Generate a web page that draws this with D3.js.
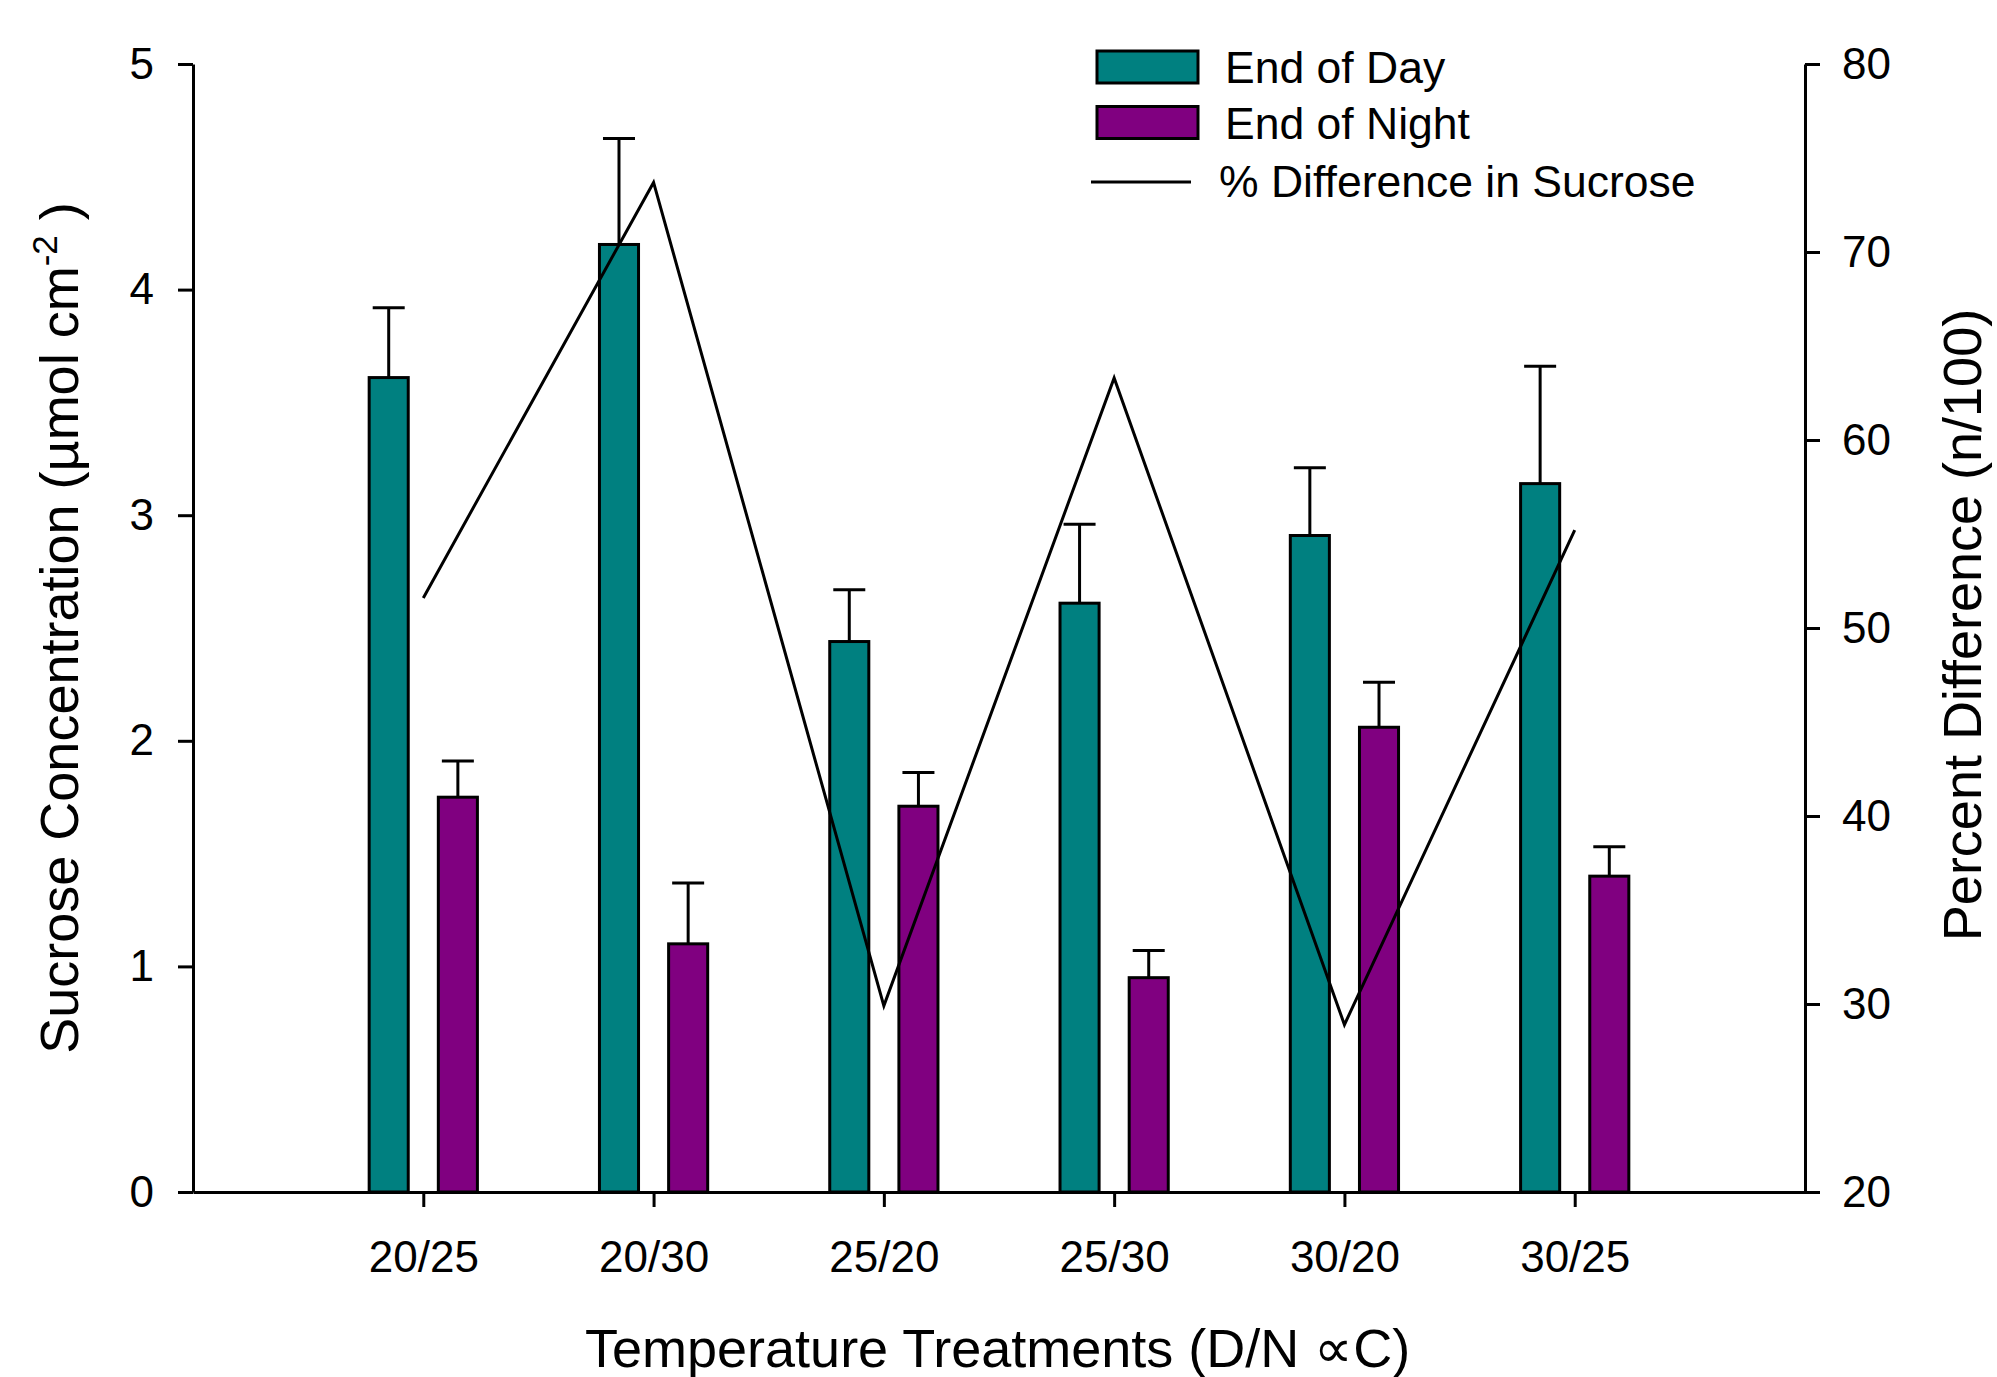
<!DOCTYPE html>
<html>
<head>
<meta charset="utf-8">
<script src="https://cdn.jsdelivr.net/npm/d3@7/dist/d3.min.js"></script>
<style>
  html, body { margin: 0; padding: 0; background: #fff; }
  svg text { font-family: "Liberation Sans", Arial, Helvetica, sans-serif; fill: #000; }
</style>
</head>
<body>
<svg id="chart" width="1997" height="1377"></svg>
<script>
// Sucrose concentration at end of day / end of night per temperature treatment
const categories = ["20/25", "20/30", "25/20", "25/30", "30/20", "30/25"];
const endOfDay = [3.61, 4.20, 2.44, 2.61, 2.91, 3.14];
const endOfDayErr = [0.31, 0.47, 0.23, 0.35, 0.30, 0.52];
const endOfNight = [1.75, 1.10, 1.71, 0.95, 2.06, 1.40];
const endOfNightErr = [0.16, 0.27, 0.15, 0.12, 0.20, 0.13];
const pctDifference = [51.6, 73.7, 29.9, 63.3, 28.9, 55.2];
const leftTicks = [0, 1, 2, 3, 4, 5];
const rightTicks = [20, 30, 40, 50, 60, 70, 80];
const seriesNames = ["End of Day", "End of Night", "% Difference in Sucrose"];
const seriesColors = ["#008080", "#800080"];

const svg = d3.select("#chart");
const plot = { left: 193, right: 1805, top: 64, bottom: 1192 };

// categories sit at positions 1..6 on a 0..7 axis
const x = d3.scaleLinear().domain([0, categories.length + 1]).range([plot.left, plot.right]);
const step = x(1) - x(0);
const inner = d3.scaleBand().domain(["day", "night"])
  .range([-0.235 * step, 0.235 * step]).paddingInner(0.435).paddingOuter(0);
const yL = d3.scaleLinear().domain([0, 5]).range([plot.bottom, plot.top]);
const yR = d3.scaleLinear().domain([20, 80]).range([plot.bottom, plot.top]);

const rows = categories.map((c, i) => ({
  cat: c, pos: i + 1,
  day: endOfDay[i], dayErr: endOfDayErr[i],
  night: endOfNight[i], nightErr: endOfNightErr[i],
  pct: pctDifference[i]
}));

const bars = [];
rows.forEach(r => {
  bars.push({ key: "day", pos: r.pos, v: r.day, e: r.dayErr, color: seriesColors[0] });
  bars.push({ key: "night", pos: r.pos, v: r.night, e: r.nightErr, color: seriesColors[1] });
});

// error bars (upper only)
const eg = svg.append("g").attr("stroke", "#000").attr("stroke-width", 3);
bars.forEach(b => {
  const cx = x(b.pos) + inner(b.key) + inner.bandwidth() / 2;
  eg.append("line").attr("x1", cx).attr("x2", cx).attr("y1", yL(b.v)).attr("y2", yL(b.v + b.e));
  eg.append("line").attr("x1", cx - 16).attr("x2", cx + 16).attr("y1", yL(b.v + b.e)).attr("y2", yL(b.v + b.e));
});

// bars
svg.append("g").selectAll("rect").data(bars).join("rect")
  .attr("x", d => x(d.pos) + inner(d.key))
  .attr("width", inner.bandwidth())
  .attr("y", d => yL(d.v))
  .attr("height", d => yL(0) - yL(d.v))
  .attr("fill", d => d.color)
  .attr("stroke", "#000")
  .attr("stroke-width", 3);

// percent difference line on right axis
svg.append("path")
  .datum(rows)
  .attr("fill", "none")
  .attr("stroke", "#000")
  .attr("stroke-width", 3)
  .attr("d", d3.line().x(d => x(d.pos)).y(d => yR(d.pct)));

// axes
function styleAxis(g, fontSize) {
  g.selectAll("path.domain").attr("stroke", "#000").attr("stroke-width", 3);
  g.selectAll(".tick line").attr("stroke", "#000").attr("stroke-width", 3);
  g.selectAll(".tick text").attr("font-size", fontSize)
    .attr("font-family", '"Liberation Sans", Arial, sans-serif').attr("fill", "#000");
}

const axL = svg.append("g").attr("transform", `translate(${plot.left},0)`)
  .call(d3.axisLeft(yL).tickValues(leftTicks).tickFormat(d3.format("d")).tickSize(15).tickSizeOuter(0).tickPadding(24));
styleAxis(axL, 44);

const axR = svg.append("g").attr("transform", `translate(${plot.right},0)`)
  .call(d3.axisRight(yR).tickValues(rightTicks).tickFormat(d3.format("d")).tickSize(15).tickSizeOuter(0).tickPadding(22));
styleAxis(axR, 44);

const axB = svg.append("g").attr("transform", `translate(0,${plot.bottom})`)
  .call(d3.axisBottom(x).tickValues(rows.map(r => r.pos)).tickFormat((d, i) => categories[i])
    .tickSize(15).tickSizeOuter(0).tickPadding(34));
styleAxis(axB, 44);
axB.selectAll(".tick text").attr("dy", "0.71em");

// axis titles
svg.append("text")
  .attr("x", 585).attr("y", 1367)
  .attr("font-size", 54)
  .text("Temperature Treatments (D/N \u221DC)");

const yt = svg.append("text")
  .attr("transform", "translate(78,628) rotate(-90)")
  .attr("text-anchor", "middle")
  .attr("font-size", 54);
yt.append("tspan").text("Sucrose Concentration (\u00B5mol cm");
yt.append("tspan").attr("font-size", 35).attr("dy", -21).text("-2");
yt.append("tspan").attr("dy", 21).text(" )");

svg.append("text")
  .attr("transform", "translate(1981,625) rotate(-90)")
  .attr("text-anchor", "middle")
  .attr("font-size", 54)
  .text("Percent Difference (n/100)");

// legend
const lg = svg.append("g");
[0, 1].forEach(i => {
  const y0 = 51 + i * 55.5;
  lg.append("rect").attr("x", 1097).attr("y", y0).attr("width", 101).attr("height", 32)
    .attr("fill", seriesColors[i]).attr("stroke", "#000").attr("stroke-width", 3);
  lg.append("text").attr("x", 1225).attr("y", y0 + 32).attr("font-size", 44.5).text(seriesNames[i]);
});
lg.append("line").attr("x1", 1091).attr("x2", 1191).attr("y1", 182).attr("y2", 182)
  .attr("stroke", "#000").attr("stroke-width", 3);
lg.append("text").attr("x", 1219).attr("y", 197).attr("font-size", 44.5).text(seriesNames[2]);
</script>
</body>
</html>
